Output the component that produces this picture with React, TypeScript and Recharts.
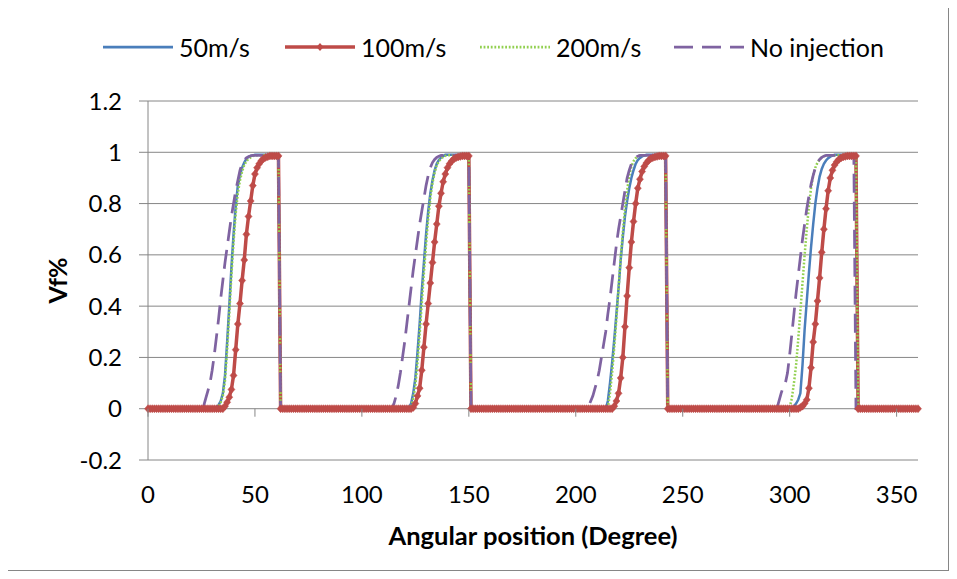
import { LineChart, Line, XAxis, YAxis, CartesianGrid } from "recharts";

// Angular positions sampled every degree over one revolution
const angles = Array.from({ length: 361 }, (_, i) => i);
const xTicks = [0, 50, 100, 150, 200, 250, 300, 350];
const yTicks = [-0.2, 0, 0.2, 0.4, 0.6, 0.8, 1, 1.2];

// Volume fraction windows: first angle, then one value per degree up to the
// last point before the drop. Outside these windows Vf stays at 0.
const vf50 = [
  { from: 31, values: [0, 0.003, 0.015, 0.03, 0.06, 0.13, 0.26, 0.4, 0.55, 0.68, 0.79, 0.87, 0.91, 0.94, 0.96, 0.975, 0.982, 0.986, 0.988, 0.99, 0.99, 0.99, 0.99, 0.99, 0.99, 0.99, 0.99, 0.99, 0.99, 0.99, 0.99] },
  { from: 121, values: [0, 0.005, 0.02, 0.06, 0.12, 0.22, 0.33, 0.46, 0.57, 0.68, 0.77, 0.84, 0.89, 0.93, 0.955, 0.97, 0.98, 0.985, 0.99, 0.99, 0.99, 0.99, 0.99, 0.99, 0.99, 0.99, 0.99, 0.99, 0.99, 0.99] },
  { from: 214, values: [0, 0.03, 0.1, 0.18, 0.27, 0.37, 0.47, 0.58, 0.67, 0.75, 0.81, 0.86, 0.9, 0.93, 0.955, 0.97, 0.978, 0.984, 0.987, 0.99, 0.99, 0.99, 0.99, 0.99, 0.99, 0.99, 0.99, 0.99, 0.99] },
  { from: 300, values: [0, 0.003, 0.01, 0.02, 0.035, 0.06, 0.17, 0.31, 0.42, 0.53, 0.63, 0.72, 0.8, 0.86, 0.905, 0.935, 0.955, 0.968, 0.977, 0.983, 0.987, 0.99, 0.99, 0.99, 0.99, 0.99, 0.99, 0.99, 0.99, 0.99, 0.99, 0.99] },
];

const vf100 = [
  { from: 35, values: [0, 0.01, 0.025, 0.045, 0.075, 0.13, 0.23, 0.33, 0.41, 0.5, 0.58, 0.68, 0.75, 0.81, 0.87, 0.915, 0.94, 0.955, 0.967, 0.975, 0.98, 0.983, 0.986, 0.986, 0.986, 0.986, 0.986] },
  { from: 123, values: [0, 0.005, 0.02, 0.05, 0.08, 0.15, 0.24, 0.33, 0.41, 0.49, 0.57, 0.65, 0.72, 0.79, 0.84, 0.885, 0.915, 0.94, 0.955, 0.966, 0.974, 0.979, 0.982, 0.984, 0.986, 0.986, 0.986, 0.986] },
  { from: 217, values: [0, 0.01, 0.03, 0.06, 0.12, 0.2, 0.32, 0.44, 0.55, 0.65, 0.73, 0.8, 0.86, 0.895, 0.925, 0.945, 0.958, 0.968, 0.975, 0.979, 0.982, 0.984, 0.986, 0.986, 0.986, 0.986] },
  { from: 304, values: [0, 0.005, 0.01, 0.02, 0.035, 0.08, 0.16, 0.26, 0.33, 0.42, 0.51, 0.61, 0.7, 0.78, 0.85, 0.9, 0.93, 0.95, 0.963, 0.972, 0.978, 0.982, 0.984, 0.986, 0.986, 0.986, 0.986, 0.986] },
];

const vf200 = [
  { from: 31, values: [0, 0, 0.01, 0.025, 0.05, 0.11, 0.23, 0.37, 0.52, 0.65, 0.76, 0.84, 0.89, 0.925, 0.95, 0.965, 0.975, 0.98, 0.985, 0.988, 0.988, 0.988, 0.988, 0.988, 0.988, 0.988, 0.988, 0.988, 0.988, 0.988, 0.988] },
  { from: 121, values: [0, 0, 0.012, 0.04, 0.09, 0.18, 0.29, 0.41, 0.53, 0.64, 0.74, 0.82, 0.88, 0.92, 0.95, 0.965, 0.975, 0.982, 0.986, 0.988, 0.988, 0.988, 0.988, 0.988, 0.988, 0.988, 0.988, 0.988, 0.988, 0.988] },
  { from: 214, values: [0, 0.005, 0.06, 0.14, 0.24, 0.35, 0.47, 0.59, 0.69, 0.78, 0.85, 0.91, 0.945, 0.965, 0.977, 0.984, 0.988, 0.988, 0.988, 0.988, 0.988, 0.988, 0.988, 0.988, 0.988, 0.988, 0.988, 0.988, 0.988] },
  { from: 299, values: [0, 0.005, 0.04, 0.1, 0.17, 0.27, 0.38, 0.49, 0.6, 0.7, 0.79, 0.86, 0.91, 0.94, 0.96, 0.972, 0.98, 0.985, 0.988, 0.988, 0.988, 0.988, 0.988, 0.988, 0.988, 0.988, 0.988, 0.988, 0.988, 0.988, 0.988, 0.988, 0.988] },
];

const vfNone = [
  { from: 25, values: [0, 0.01, 0.04, 0.07, 0.1, 0.15, 0.21, 0.28, 0.35, 0.43, 0.5, 0.57, 0.63, 0.69, 0.75, 0.8, 0.85, 0.89, 0.93, 0.955, 0.97, 0.978, 0.983, 0.986, 0.988, 0.988, 0.988, 0.988, 0.988, 0.988, 0.988, 0.988, 0.988, 0.988, 0.988, 0.988, 0.988] },
  { from: 114, values: [0, 0.02, 0.05, 0.09, 0.14, 0.2, 0.26, 0.33, 0.4, 0.47, 0.54, 0.6, 0.66, 0.72, 0.77, 0.82, 0.87, 0.91, 0.94, 0.96, 0.972, 0.98, 0.985, 0.988, 0.988, 0.988, 0.988, 0.988, 0.988, 0.988, 0.988, 0.988, 0.988, 0.988, 0.988, 0.988, 0.988] },
  { from: 205, values: [0, 0.01, 0.03, 0.05, 0.08, 0.11, 0.15, 0.2, 0.25, 0.3, 0.37, 0.43, 0.5, 0.57, 0.64, 0.7, 0.75, 0.8, 0.85, 0.9, 0.93, 0.955, 0.97, 0.98, 0.985, 0.988, 0.988, 0.988, 0.988, 0.988, 0.988, 0.988, 0.988, 0.988, 0.988, 0.988, 0.988, 0.988] },
  { from: 294, values: [0, 0.03, 0.06, 0.085, 0.1, 0.14, 0.21, 0.29, 0.37, 0.45, 0.52, 0.59, 0.66, 0.72, 0.78, 0.83, 0.875, 0.91, 0.94, 0.96, 0.972, 0.98, 0.985, 0.988, 0.988, 0.988, 0.988, 0.988, 0.988, 0.988, 0.988, 0.988, 0.988, 0.988, 0.988, 0.988, 0.988] },
];

type Window = { from: number; values: number[] };

function valueAt(windows: Window[], angle: number): number {
  for (const w of windows) {
    const i = angle - w.from;
    if (i >= 0 && i < w.values.length) return w.values[i];
  }
  return 0;
}

const data = angles.map((angle) => ({
  angle,
  v50: valueAt(vf50, angle),
  v100: valueAt(vf100, angle),
  v200: valueAt(vf200, angle),
  none: valueAt(vfNone, angle),
}));

const BLUE = "#4A7EBB";
const RED = "#BE4B48";
const GREEN = "#92D050";
const PURPLE = "#7F63A1";
const GREY = "#868686";
const FONT = "Lato, 'Open Sans', sans-serif";
const DOTS = "1.8 1.8";
const DASHES = "19 9";

const WIDTH = 940;
const HEIGHT = 562;
const TOP = 93;
const X_AXIS_H = 110;
const PLOT_H = HEIGHT - TOP - X_AXIS_H;
// the angle axis crosses at Vf = 0, one grid step above the bottom edge
const ZERO_LIFT = PLOT_H / 7;

function AngleTick(props: any) {
  const { x, y, payload } = props;
  return (
    <g>
      <line x1={x} x2={x} y1={y - ZERO_LIFT} y2={y - ZERO_LIFT + 8} stroke={GREY} strokeWidth={1} />
      <text x={x} y={y + 43} textAnchor="middle" fill="#000" fontSize={24} fontFamily={FONT}>
        {payload.value}
      </text>
    </g>
  );
}

function Diamond(props: any) {
  const { cx, cy, index } = props;
  if (cx == null || cy == null) return <g key={`d-${index}`} />;
  return (
    <path
      key={`d-${index}`}
      d={`M${cx},${cy - 4}L${cx + 3.5},${cy}L${cx},${cy + 4}L${cx - 3.5},${cy}Z`}
      fill={RED}
      stroke={RED}
      strokeWidth={0.5}
    />
  );
}

function XTitle(props: any) {
  const { viewBox } = props;
  return (
    <text
      x={viewBox.x + viewBox.width / 2}
      y={viewBox.y + 85}
      textAnchor="middle"
      fontSize={25.5}
      fontWeight={700}
      fontFamily={FONT}
      fill="#000"
    >
      Angular position (Degree)
    </text>
  );
}

function YTitle(props: any) {
  const { viewBox } = props;
  const cx = viewBox.x + 49;
  const cy = viewBox.y + viewBox.height / 2;
  return (
    <text
      x={cx}
      y={cy}
      transform={`rotate(-90 ${cx} ${cy})`}
      textAnchor="middle"
      dominantBaseline="central"
      fontSize={25}
      fontWeight={700}
      fontFamily={FONT}
      fill="#000"
    >
      Vf%
    </text>
  );
}

const legendItems = [
  { label: "50m/s", color: BLUE, dash: undefined, marker: false, width: 182 },
  { label: "100m/s", color: RED, dash: undefined, marker: true, width: 195 },
  { label: "200m/s", color: GREEN, dash: DOTS, marker: false, width: 194 },
  { label: "No injection", color: PURPLE, dash: DASHES, marker: false, width: 220 },
];

function TopLegend() {
  return (
    <div style={{ position: "absolute", left: 94.5, top: 26, display: "flex", fontFamily: FONT, fontSize: 25 }}>
      {legendItems.map((item) => (
        <div key={item.label} style={{ width: item.width, display: "flex", alignItems: "center" }}>
          <svg width={70} height={26} style={{ flex: "none" }}>
            <line
              x1={0}
              x2={70}
              y1={13}
              y2={13}
              stroke={item.color}
              strokeWidth={item.marker ? 3.5 : 2.75}
              strokeDasharray={item.dash}
            />
            {item.marker && <path d="M35,9L38.5,13L35,17L31.5,13Z" fill={RED} />}
          </svg>
          <span style={{ marginLeft: 6.5, whiteSpace: "nowrap", lineHeight: "26px" }}>{item.label}</span>
        </div>
      ))}
    </div>
  );
}

export default function App() {
  return (
    <div
      style={{
        position: "relative",
        left: -1,
        top: -1,
        width: WIDTH,
        height: HEIGHT,
        border: `1px solid ${GREY}`,
        background: "#fff",
      }}
    >
      <TopLegend />
      <LineChart width={WIDTH} height={HEIGHT} data={data} margin={{ top: TOP, right: 30, bottom: 0, left: 0 }}>
        <CartesianGrid vertical={false} stroke={GREY} strokeWidth={1} />
        <XAxis
          type="number"
          dataKey="angle"
          domain={[0, 360]}
          ticks={xTicks}
          interval={0}
          axisLine={false}
          tickLine={false}
          tickSize={0}
          tickMargin={0}
          height={X_AXIS_H}
          tick={<AngleTick />}
          label={{ content: <XTitle /> }}
        />
        <YAxis
          type="number"
          domain={[-0.2, 1.2]}
          ticks={yTicks}
          interval={0}
          width={140}
          axisLine={{ stroke: GREY, strokeWidth: 1 }}
          tickLine={{ stroke: GREY, strokeWidth: 1 }}
          tickSize={9}
          tickMargin={17}
          tick={{ fill: "#000", fontSize: 24, fontFamily: FONT }}
          tickFormatter={(v: number) => String(v)}
          label={{ content: <YTitle /> }}
        />
        <Line
          type="linear"
          dataKey="v50"
          name="50m/s"
          stroke={BLUE}
          strokeWidth={2.5}
          dot={false}
          activeDot={false}
          isAnimationActive={false}
        />
        <Line
          type="linear"
          dataKey="v100"
          name="100m/s"
          stroke={RED}
          strokeWidth={3.5}
          dot={Diamond}
          activeDot={false}
          isAnimationActive={false}
        />
        <Line
          type="linear"
          dataKey="v200"
          name="200m/s"
          stroke={GREEN}
          strokeWidth={2.5}
          strokeDasharray={DOTS}
          dot={false}
          activeDot={false}
          isAnimationActive={false}
        />
        <Line
          type="linear"
          dataKey="none"
          name="No injection"
          stroke={PURPLE}
          strokeWidth={2.75}
          strokeDasharray={DASHES}
          dot={false}
          activeDot={false}
          isAnimationActive={false}
        />
      </LineChart>
    </div>
  );
}
